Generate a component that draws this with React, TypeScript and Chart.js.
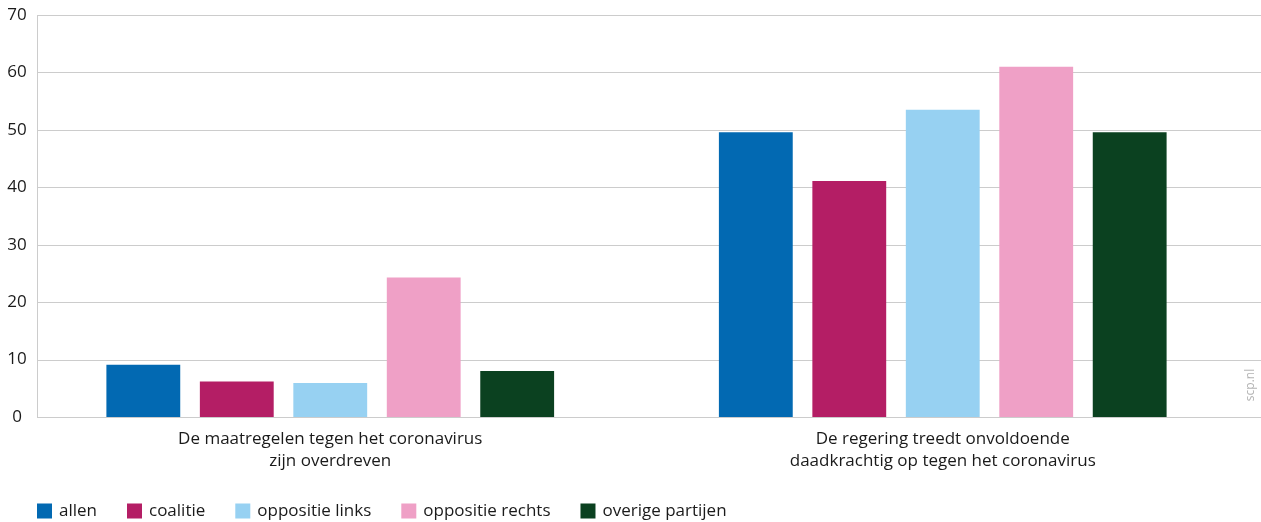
import React, { useEffect, useRef } from "react";
import { Chart, registerables } from "chart.js";

Chart.register(...registerables);

const categories: string[][] = [
  ["De maatregelen tegen het coronavirus", "zijn overdreven"],
  ["De regering treedt onvoldoende", "daadkrachtig op tegen het coronavirus"],
];
const seriesNames = ["allen", "coalitie", "oppositie links", "oppositie rechts", "overige partijen"];
const allen = [9.1, 49.6];
const coalitie = [6.2, 41.1];
const oppositieLinks = [5.9, 53.5];
const oppositieRechts = [24.3, 61.0];
const overigePartijen = [8.0, 49.6];
const seriesColors = ["#0269B2", "#B41E65", "#97D1F2", "#EFA0C6", "#0B4120"];
const yTickValues = [0, 10, 20, 30, 40, 50, 60, 70];
const watermark = "scp.nl";

const FONT = "'Open Sans', 'Noto Sans', sans-serif";
const AXIS_X = 37;
const GRID_COLOR = "#cccccc";
const TEXT_COLOR = "#1a1a1a";

const gridPlugin = {
  id: "customGrid",
  beforeDatasetsDraw(chart: any) {
    const { ctx } = chart;
    const y = chart.scales.y;
    ctx.save();
    ctx.strokeStyle = GRID_COLOR;
    ctx.lineWidth = 1;
    for (const v of yTickValues) {
      const py = Math.round(y.getPixelForValue(v)) + 0.5;
      ctx.beginPath();
      ctx.moveTo(AXIS_X, py);
      ctx.lineTo(chart.width, py);
      ctx.stroke();
    }
    const top = Math.round(y.getPixelForValue(yTickValues[yTickValues.length - 1])) + 0.5;
    const bottom = Math.round(y.getPixelForValue(0)) + 0.5;
    ctx.beginPath();
    ctx.moveTo(AXIS_X + 0.5, top);
    ctx.lineTo(AXIS_X + 0.5, bottom);
    ctx.stroke();
    // y tick labels, centred in the left margin
    ctx.font = `17px ${FONT}`;
    ctx.fillStyle = TEXT_COLOR;
    ctx.textAlign = "center";
    ctx.textBaseline = "middle";
    for (const v of yTickValues) {
      ctx.fillText(String(v), 17, y.getPixelForValue(v));
    }
    ctx.restore();
  },
};

const legendPlugin = {
  id: "customLegend",
  afterDraw(chart: any) {
    const { ctx } = chart;
    ctx.save();
    ctx.font = `17px ${FONT}`;
    ctx.textBaseline = "middle";
    ctx.textAlign = "left";
    let x = AXIS_X;
    const cy = 511;
    chart.data.datasets.forEach((ds: any) => {
      ctx.fillStyle = ds.backgroundColor;
      ctx.fillRect(x, cy - 7.5, 15, 15);
      ctx.fillStyle = TEXT_COLOR;
      ctx.fillText(ds.label, x + 22, cy);
      x += 22 + ctx.measureText(ds.label).width + 30;
    });
    ctx.restore();
  },
};

const watermarkPlugin = {
  id: "watermark",
  afterDraw(chart: any) {
    const { ctx } = chart;
    ctx.save();
    ctx.translate(1251, 385);
    ctx.rotate(-Math.PI / 2);
    ctx.font = `12px ${FONT}`;
    ctx.fillStyle = "#b4b4b4";
    ctx.textAlign = "center";
    ctx.textBaseline = "middle";
    ctx.fillText(watermark, 0, 0);
    ctx.restore();
  },
};

export default function App() {
  const ref = useRef<HTMLCanvasElement>(null);
  useEffect(() => {
    document.body.style.margin = "0";
    const values = [allen, coalitie, oppositieLinks, oppositieRechts, overigePartijen];
    const chart = new Chart(ref.current as HTMLCanvasElement, {
      type: "bar",
      data: {
        labels: categories,
        datasets: seriesNames.map((name, i) => ({
          label: name,
          data: values[i],
          backgroundColor: seriesColors[i],
          borderWidth: 0,
          categoryPercentage: 0.763,
          barPercentage: 0.79,
        })),
      },
      options: {
        responsive: false,
        animation: false,
        devicePixelRatio: 1,
        layout: { padding: { top: 15, right: 12, bottom: 35, left: 0 } },
        plugins: {
          legend: { display: false },
          tooltip: { enabled: false },
        },
        scales: {
          x: {
            grid: { display: false },
            border: { display: false },
            afterFit: (scale: any) => {
              scale.height = 70;
            },
            ticks: {
              color: TEXT_COLOR,
              padding: 3,
              maxRotation: 0,
              autoSkip: false,
              font: { family: FONT, size: 17, lineHeight: 1.3 },
            },
          },
          y: {
            min: 0,
            max: 70,
            grid: { display: false },
            border: { display: false },
            afterFit: (scale: any) => {
              scale.width = 24;
            },
            ticks: { display: false },
          },
        },
      },
      plugins: [gridPlugin, legendPlugin, watermarkPlugin],
    });
    return () => chart.destroy();
  }, []);
  return (
    <div style={{ width: 1261, height: 522 }}>
      <canvas ref={ref} width={1261} height={522} style={{ display: "block" }} />
    </div>
  );
}
